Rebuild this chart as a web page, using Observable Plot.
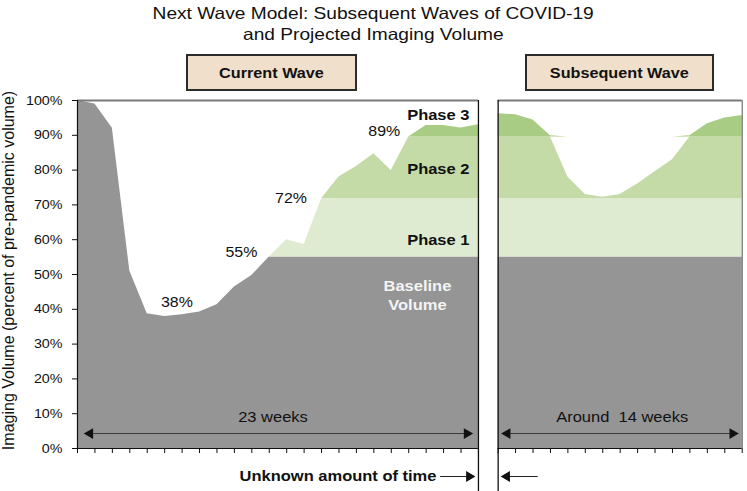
<!DOCTYPE html>
<html><head><meta charset="utf-8">
<script src="https://cdn.jsdelivr.net/npm/d3@7"></script>
<script src="https://cdn.jsdelivr.net/npm/@observablehq/plot@0.6"></script>
<style>
body{margin:0;background:#fff;}
#wrap{position:relative;width:747px;height:491px;font-family:"Liberation Sans",Arial,Helvetica,sans-serif;color:#111;}
#title{height:46px;box-sizing:border-box;padding-top:3px;text-align:center;font-size:16.5px;line-height:21px;}
#title .s{display:inline-block;transform:scaleX(1.16);}
.box{position:absolute;top:53.5px;height:37px;box-sizing:border-box;border:2px solid #2b2b2b;background:#f0dfcb;display:flex;align-items:center;justify-content:center;font-weight:bold;font-size:15px;}
.box span{display:inline-block;transform:scaleX(1.08);}
#chart svg{display:block;}
</style></head>
<body>
<div id="wrap">
  <div id="title"><span class="s">Next Wave Model: Subsequent Waves of COVID-19</span><br><span class="s">and Projected Imaging Volume</span></div>
  <div id="chart"></div>
</div>
<script>
// ---------- data ----------
const currentWaveWeeks = 23;
const subsequentWaveWeeks = 14;
const currentWave = [100, 99, 92, 51, 38.7, 37.9, 38.4, 39.2, 41.3, 46.4, 49.7, 55, 60, 58.6, 71.7, 78, 81, 84.7, 79.9, 89.5, 92.8, 92.8, 92.1, 93];
const subsequentWave = [96.2, 95.9, 94.4, 89.9, 78, 73, 72.2, 73, 76, 79.5, 83, 89.9, 93.3, 95, 95.7];
const recoveryStartWeek = 11;
const phaseLevels = [55, 71.8, 89.5];
const phaseNames = ["Phase 1", "Phase 2", "Phase 3"];
const phaseLabelValues = [60, 80.4, 95.9];
const baselineLabel = "Baseline\nVolume";
const milestoneLabels = ["38%", "55%", "72%", "89%"];
const milestoneValues = [38, 55, 72, 89];
const milestoneWeeks = [5.7, 9.4, 12.25, 17.6];
const yTicks = [0, 10, 20, 30, 40, 50, 60, 70, 80, 90, 100];
const panelTitles = ["Current Wave", "Subsequent Wave"];
const durationLabels = ["23 weeks", "Around  14 weeks"];
const gapLabel = "Unknown amount of time";
const yLabel = "Imaging Volume (percent of pre-pandemic volume)";

// ---------- layout ----------
const W = 747, H = 445, mT = 54, mB = 43, mL = 77, mR = 5.3;
const pxPerUnit = (H - mT - mB) / 100;
const gap = 1.13;                       // gap between panels, in weeks
const offset = currentWaveWeeks + gap;
const xMax = offset + subsequentWaveWeeks;
const bottomY = -mB / pxPerUnit;
const arrowY = 4.3;
const milestoneLift = [14, 5, 0, 7.6];
const colors = {gray: "#959595", p1: "#dfebd1", p2: "#c4daa7", p3: "#a9cc84"};
const font = "'Liberation Sans', Arial, Helvetica, sans-serif";

const panels = [
  {name: "current", x1: 0, x2: currentWaveWeeks, duration: durationLabels[0], tipL: 6.3, tipR: 5.3, dx: -5},
  {name: "subsequent", x1: offset, x2: xMax, duration: durationLabels[1], tipL: 3, tipR: 3.4, dx: 2}
];

const rows = [
  ...currentWave.map((v, i) => ({panel: "current", x: i, v, gray: i <= recoveryStartWeek ? v : phaseLevels[0], banded: i >= recoveryStartWeek})),
  ...subsequentWave.map((v, i) => ({panel: "subsequent", x: offset + i, v, gray: phaseLevels[0], banded: true}))
];
const banded = rows.filter(r => r.banded);
const clamp = (v, a, b) => Math.max(a, Math.min(b, v));
const [b0, b1, b2] = phaseLevels;
const xTicks = [...d3.range(0, currentWaveWeeks + 1), ...d3.range(0, subsequentWaveWeeks + 1).map(j => offset + j)];

const marks = [
  Plot.areaY(rows, {x: "x", y1: 0, y2: "gray", z: "panel", fill: colors.gray}),
  Plot.areaY(banded, {x: "x", y1: b0, y2: d => clamp(d.v, b0, b1), z: "panel", fill: colors.p1}),
  Plot.areaY(banded, {x: "x", y1: b1, y2: d => clamp(d.v, b1, b2), z: "panel", fill: colors.p2}),
  Plot.areaY(banded, {x: "x", y1: b2, y2: d => Math.max(d.v, b2), z: "panel", fill: colors.p3}),
  Plot.ruleY(panels, {x1: "x1", x2: "x2", y: 100, stroke: "#7a7a7a", strokeWidth: 2}),
  Plot.ruleY(panels, {x1: "x1", x2: "x2", y: 0, stroke: "#111", strokeWidth: 1.2}),
  Plot.ruleX([0], {y1: 0, y2: 100, stroke: "#111", strokeWidth: 1.2}),
  Plot.ruleX([currentWaveWeeks, offset], {y1: 100, y2: bottomY, stroke: "#111", strokeWidth: 1.3}),
  Plot.ruleX([xMax], {y1: 0, y2: 100, stroke: "#555"}),
  Plot.axisY({ticks: yTicks, tickFormat: d => d + "%", tickSize: 5, tickPadding: 10, fontSize: 13, label: null, stroke: "#111"}),
  Plot.axisX({ticks: xTicks, tickFormat: () => "", tickSize: 5, label: null, stroke: "#111"}),
  Plot.text([yLabel], {frameAnchor: "left", textAnchor: "middle", lineAnchor: "middle", rotate: -90, dx: -68.5, dy: -4, fontSize: 16, fill: "#111"}),
  Plot.text(phaseNames, {x: currentWaveWeeks, y: (d, i) => phaseLabelValues[i], text: d => d, textAnchor: "end", dx: -9, fontWeight: "bold", fontSize: 15, fill: "#111"}),
  Plot.text([baselineLabel], {x: 19.5, y: 44.3, text: d => d, fill: "#f4f4f4", fontWeight: "bold", fontSize: 15, lineHeight: 1.29}),
  Plot.text(milestoneLabels, {x: (d, i) => milestoneWeeks[i], y: (d, i) => milestoneValues[i] + milestoneLift[i] / pxPerUnit, text: d => d, fontSize: 14.5, fill: "#111"}),
  // bottom "unknown amount of time" arrows
  Plot.text([gapLabel], {x: currentWaveWeeks, y: 0, text: d => d, dx: -42, dy: 28, textAnchor: "end", fontWeight: "bold", fontSize: 15, fill: "#111"}),
  Plot.ruleY([0], {x1: currentWaveWeeks - 2.17, x2: currentWaveWeeks - 0.6, dy: 28, stroke: "#222"}),
  Plot.dot([0], {x: currentWaveWeeks, y: 0, dx: -9.2, dy: 28, symbol: "triangle", r: 4, rotate: 90, fill: "#111"}),
  Plot.ruleY([0], {x1: offset + 0.6, x2: offset + 2.3, dy: 28, stroke: "#222"}),
  Plot.dot([0], {x: offset, y: 0, dx: 8.7, dy: 28, symbol: "triangle", r: 4, rotate: -90, fill: "#111"})
];

for (const p of panels) {
  marks.push(
    Plot.ruleY([p], {x1: "x1", x2: "x2", y: arrowY, insetLeft: p.tipL + 4, insetRight: p.tipR + 4, stroke: "#3a3a3a"}),
    Plot.dot([p], {x: "x1", y: arrowY, dx: p.tipL + 6.2, symbol: "triangle", r: 4, rotate: -90, fill: "#111"}),
    Plot.dot([p], {x: "x2", y: arrowY, dx: -(p.tipR + 6.2), symbol: "triangle", r: 4, rotate: 90, fill: "#111"}),
    Plot.text([p], {x: d => (d.x1 + d.x2) / 2, y: arrowY, text: "duration", dx: p.dx, dy: -16, fontSize: 15, fill: "#111"})
  );
}

const chart = Plot.plot({
  width: W, height: H, marginTop: mT, marginBottom: mB, marginLeft: mL, marginRight: mR,
  x: {domain: [0, xMax]},
  y: {domain: [0, 100]},
  style: {fontFamily: font, fontSize: "13px", color: "#111", background: "transparent", overflow: "visible"},
  marks
});

chart.querySelectorAll("text").forEach(t => {
  const tr = t.getAttribute("transform");
  if (tr && !tr.includes("rotate")) t.setAttribute("transform", tr + " scale(1.1,1)");
});

document.getElementById("chart").appendChild(chart);

// panel title boxes
const boxes = [{left: 186, width: 171}, {left: 524.5, width: 189}];
panelTitles.forEach((t, i) => {
  const b = document.createElement("div");
  b.className = "box";
  b.style.left = boxes[i].left + "px";
  b.style.width = boxes[i].width + "px";
  const s = document.createElement("span");
  s.textContent = t;
  b.appendChild(s);
  document.getElementById("wrap").appendChild(b);
});
</script>
</body></html>
